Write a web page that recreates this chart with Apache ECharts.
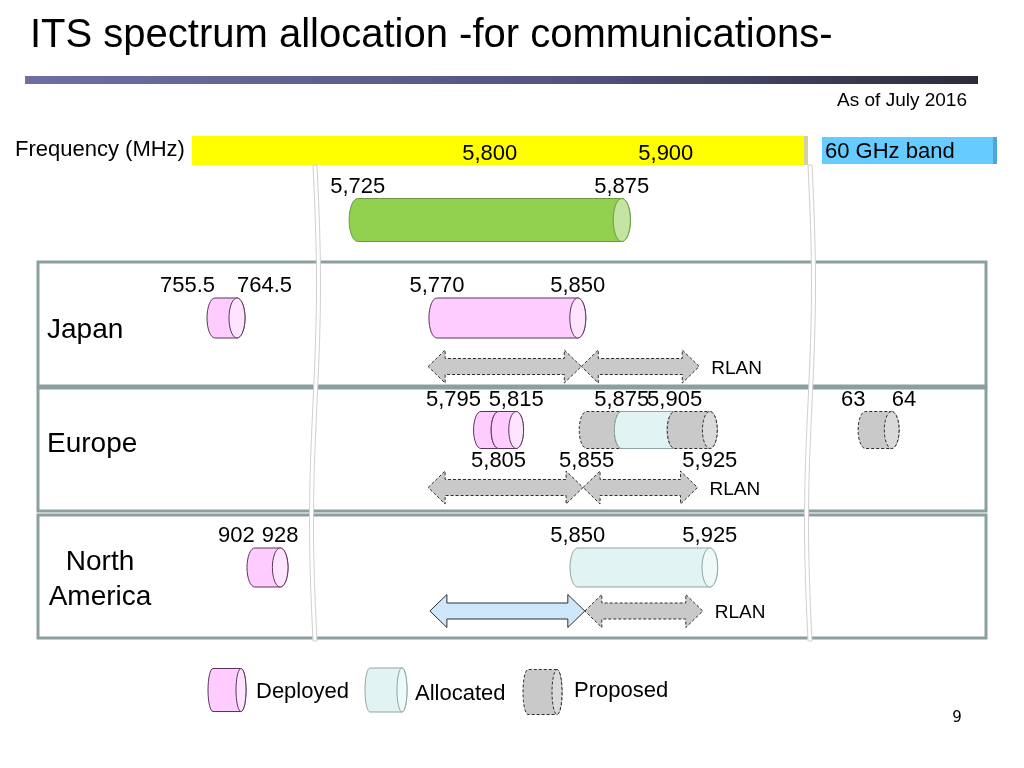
<!DOCTYPE html>
<html>
<head>
<meta charset="utf-8">
<title>ITS spectrum allocation</title>
<script src="https://cdn.jsdelivr.net/npm/echarts@6.0.0/dist/echarts.min.js"></script>
<style>
html,body{margin:0;padding:0;background:#ffffff;}
#chart{width:1024px;height:768px;}
</style>
</head>
<body>
<div id="chart"></div>
<script>
// ===== DATA (frequencies in MHz; 60 GHz band in GHz) =====
const headerTicks       = [5800, 5900];
const ismBand           = [[5725, 5875, 'ISM']];
const ismTicks          = [5725, 5875];

const japanMain         = [[5770, 5850, 'Deployed']];
const japanMainTicks    = [5770, 5850];
const japanLow          = [[755.5, 764.5, 'Deployed']];
const japanLowTicks     = [755.5, 764.5];
const japanRlan         = [[5765, 5852, 'Proposed'], [5852, 5919, 'Proposed']];

const europeMain        = [[5795, 5805, 'Deployed'], [5805, 5815, 'Deployed'], [5855, 5875, 'Proposed'], [5875, 5905, 'Allocated'], [5905, 5925, 'Proposed']];
const europeTopTicks    = [5795, 5815, 5875, 5905];
const europeBottomTicks = [5805, 5855, 5925];
const europe60          = [[63, 64, 'Proposed']];
const europe60Ticks     = [63, 64];
const europeRlan        = [[5765, 5853, 'Proposed'], [5853, 5918, 'Proposed']];

const naMain            = [[5850, 5925, 'Allocated']];
const naMainTicks       = [5850, 5925];
const naLow             = [[902, 928, 'Deployed']];
const naLowTicks        = [902, 928];
const naArrows          = [[5766, 5854, 'DSRC'], [5854, 5921, 'Proposed']];

const legendItems       = ['Deployed', 'Allocated', 'Proposed'];

// ===== LAYOUT / STYLE =====
const FONT = '"Liberation Sans", Arial, Helvetica, sans-serif';
const GRID_L = 38, GRID_W = 948;
const RANGE = {
  header: [5630.88, 5980.76],
  main:   [5543.41, 6081.86],
  lowJP:  [683.08, 1070.98],
  lowNA:  [680.1, 1650.4],
  ghz60:  [31.42, 67.6]
};
const STYLE = {
  Deployed:  {fill: '#ffccff', face: '#ffe4ff', stroke: '#5a355a', dash: null},
  Allocated: {fill: '#e2f3f4', face: '#eef9fa', stroke: '#8fa5a5', dash: null},
  Proposed:  {fill: '#c9c9c9', face: '#dadada', stroke: '#2e2e2e', dash: [3, 2]},
  ISM:       {fill: '#92d050', face: '#c4e4a2', stroke: '#6c9a40', dash: null},
  DSRC:      {fill: '#cfe7fa', face: '#cfe7fa', stroke: '#2e2e2e', dash: null}
};
const ANCHOR = {'755.5': 'right', '764.5': 'left', '5795': 'right', '902': 'right', '63': 'right', '64': 'left'};

function fmt(v) {
  const p = String(v).split('.');
  p[0] = p[0].replace(/\B(?=(\d{3})+(?!\d))/g, ',');
  return p.join('.');
}

// half / full ellipse sampled as points
function arcPts(cx, cy, rx, ry, a0, a1, n) {
  const out = [];
  for (let i = 0; i <= n; i++) {
    const a = a0 + (a1 - a0) * i / n;
    out.push([cx + rx * Math.cos(a), cy + ry * Math.sin(a)]);
  }
  return out;
}

function cylShapes(cl, cr, yc, h, rx, st) {
  const ry = h / 2;
  const right = arcPts(cr, yc, rx, ry, -Math.PI / 2, Math.PI / 2, 16);
  const left = arcPts(cl, yc, rx, ry, Math.PI / 2, Math.PI * 1.5, 16);
  const body = right.concat(left);
  const face = arcPts(cr, yc, rx, ry, 0, Math.PI * 2, 36);
  return [
    {type: 'polygon', shape: {points: body}, style: {fill: st.fill, stroke: st.stroke, lineWidth: 1, lineDash: st.dash}},
    {type: 'polygon', shape: {points: face}, style: {fill: st.face, stroke: st.stroke, lineWidth: 1, lineDash: st.dash}}
  ];
}

function arrowPts(x0, x1, yc) {
  const H = 16.5, S = 8, L = 17;
  return [[x0, yc], [x0 + L, yc - H], [x0 + L, yc - S], [x1 - L, yc - S], [x1 - L, yc - H], [x1, yc],
          [x1 - L, yc + H], [x1 - L, yc + S], [x0 + L, yc + S], [x0 + L, yc + H]];
}

function cylSeries(arr, xi, yi, h) {
  return {
    type: 'custom', xAxisIndex: xi, yAxisIndex: yi, clip: false, silent: true,
    data: arr.map(d => [d[0], d[1], 0]),
    encode: {x: [0, 1], y: 2},
    renderItem: function (params, api) {
      const d = arr[params.dataIndex];
      const a = api.coord([api.value(0), 0]);
      const b = api.coord([api.value(1), 0]);
      return {type: 'group', children: cylShapes(a[0], b[0], a[1], h, h * 0.2, STYLE[d[2]])};
    }
  };
}

function tickSeries(vals, xi, yi, h, side) {
  return {
    type: 'custom', xAxisIndex: xi, yAxisIndex: yi, clip: false, silent: true,
    data: vals.map(v => [v, 0]),
    encode: {x: 0, y: 1},
    renderItem: function (params, api) {
      const v = api.value(0);
      const p = api.coord([v, 0]);
      const y = side === 'top' ? p[1] - h / 2 - 12 : p[1] + h / 2 + 12;
      return {type: 'text', style: {text: fmt(v), x: p[0], y: y, align: ANCHOR[v] || 'center', verticalAlign: 'middle',
        fill: '#000', fontSize: 22, fontFamily: FONT}};
    }
  };
}

function arrowSeries(arr, xi, yi, tailText) {
  return {
    type: 'custom', xAxisIndex: xi, yAxisIndex: yi, clip: false, silent: true,
    data: arr.map(d => [d[0], d[1], 1]),
    encode: {x: [0, 1], y: 2},
    renderItem: function (params, api) {
      const d = arr[params.dataIndex];
      const a = api.coord([api.value(0), 1]);
      const b = api.coord([api.value(1), 1]);
      const st = STYLE[d[2]];
      const children = [{type: 'polygon', shape: {points: arrowPts(a[0], b[0], a[1])},
        style: {fill: st.fill, stroke: st.stroke, lineWidth: 1, lineDash: st.dash}}];
      if (tailText && params.dataIndex === arr.length - 1) {
        children.push({type: 'text', style: {text: tailText, x: b[0] + 12, y: a[1] + 2, align: 'left', verticalAlign: 'middle',
          fill: '#000', fontSize: 19, fontFamily: FONT}});
      }
      return {type: 'group', children: children};
    }
  };
}

function hiddenX(grid, r) {
  return {type: 'value', gridIndex: grid, min: r[0], max: r[1], show: false, splitLine: {show: false}};
}
function hiddenY(grid, cats) {
  return {type: 'category', gridIndex: grid, data: cats, inverse: true, show: false};
}

function breakLine(x, y0, y1) {
  const n = 40, lft = [], rgt = [];
  for (let i = 0; i <= n; i++) {
    const t = i / n;
    const y = y0 + (y1 - y0) * t;
    const dx = 3.5 * Math.sin(t * Math.PI * 2);
    lft.push([x + dx, y]);
    rgt.unshift([x + 4 + dx, y]);
  }
  return {type: 'polygon', z: 100, shape: {points: lft.concat(rgt)}, style: {fill: '#ffffff', stroke: '#d0d0d0', lineWidth: 1}};
}

function txt(text, x, y, size, align) {
  return {type: 'text', style: {text: text, x: x, y: y, fontSize: size, fontFamily: FONT,
    fill: '#000', align: align || 'left', verticalAlign: 'middle'}};
}

// legend icons
const legendBoxes = [[208, 246, 690, 43], [365, 407, 690, 44], [523, 562, 692, 45]];
const legendText = [[256, 692], [415, 694], [574, 691]];
const legendGraphics = [];
legendItems.forEach((name, i) => {
  const b = legendBoxes[i];
  legendGraphics.push({type: 'group', children: cylShapes(b[0] + 5, b[1] - 5, b[2], b[3], 5, STYLE[name])});
  legendGraphics.push(txt(name, legendText[i][0], legendText[i][1], 22));
});

const chart = echarts.init(document.getElementById('chart'), null, {renderer: 'canvas'});

const option = {
  animation: false,
  backgroundColor: '#ffffff',
  grid: [
    {left: 192, width: 616, top: 136, height: 29, show: true, backgroundColor: '#ffff00', borderWidth: 0},
    {left: GRID_L, width: GRID_W, top: 198, height: 44},
    {left: GRID_L, width: GRID_W, top: 293.75, height: 97},
    {left: GRID_L, width: GRID_W, top: 401.25, height: 115},
    {left: GRID_L, width: GRID_W, top: 545.75, height: 87}
  ],
  xAxis: [
    {type: 'value', gridIndex: 0, min: RANGE.header[0], max: RANGE.header[1], position: 'bottom',
      axisLine: {show: false}, axisTick: {show: false}, splitLine: {show: false},
      axisLabel: {inside: true, customValues: headerTicks, margin: 0, formatter: v => fmt(v),
        color: '#000', fontSize: 22, fontFamily: FONT}},
    hiddenX(1, RANGE.main),
    hiddenX(2, RANGE.main),
    hiddenX(2, RANGE.lowJP),
    hiddenX(3, RANGE.main),
    hiddenX(3, RANGE.ghz60),
    hiddenX(4, RANGE.main),
    hiddenX(4, RANGE.lowNA)
  ],
  yAxis: [
    hiddenY(0, ['band']),
    hiddenY(1, ['ISM']),
    hiddenY(2, ['cyl', 'arrow']),
    hiddenY(3, ['cyl', 'arrow']),
    hiddenY(4, ['cyl', 'arrow'])
  ],
  series: [
    {type: 'custom', xAxisIndex: 0, yAxisIndex: 0, data: [], renderItem: () => null},
    // ISM
    cylSeries(ismBand, 1, 1, 43),
    tickSeries(ismTicks, 1, 1, 43, 'top'),
    // Japan
    cylSeries(japanMain, 2, 2, 40),
    tickSeries(japanMainTicks, 2, 2, 40, 'top'),
    cylSeries(japanLow, 3, 2, 40),
    tickSeries(japanLowTicks, 3, 2, 40, 'top'),
    arrowSeries(japanRlan, 2, 2, 'RLAN'),
    // Europe
    cylSeries(europeMain, 4, 3, 37),
    tickSeries(europeTopTicks, 4, 3, 37, 'top'),
    tickSeries(europeBottomTicks, 4, 3, 37, 'bottom'),
    cylSeries(europe60, 5, 3, 37),
    tickSeries(europe60Ticks, 5, 3, 37, 'top'),
    arrowSeries(europeRlan, 4, 3, 'RLAN'),
    // North America
    cylSeries(naMain, 6, 4, 39),
    tickSeries(naMainTicks, 6, 4, 39, 'top'),
    cylSeries(naLow, 7, 4, 39),
    tickSeries(naLowTicks, 7, 4, 39, 'top'),
    arrowSeries(naArrows, 6, 4, 'RLAN')
  ],
  graphic: [
    txt('ITS spectrum allocation -for communications-', 30, 36, 40),
    {type: 'rect', shape: {x: 25, y: 76, width: 953, height: 8},
      style: {fill: new echarts.graphic.LinearGradient(0, 0, 1, 0, [
        {offset: 0, color: '#6e6ea4'}, {offset: 0.55, color: '#555580'}, {offset: 1, color: '#2c2c3e'}])}},
    txt('As of July 2016', 967, 101, 19, 'right'),
    txt('Frequency (MHz)', 15, 150, 22),
    {type: 'rect', shape: {x: 804, y: 136, width: 4, height: 29}, style: {fill: '#d2d2a0'}},
    {type: 'rect', shape: {x: 822, y: 137, width: 172, height: 27}, style: {fill: '#66ccff'}},
    {type: 'rect', shape: {x: 993, y: 137, width: 4, height: 27}, style: {fill: '#4ea6d6'}},
    txt('60 GHz band', 825, 152, 22),
    {type: 'rect', shape: {x: 38, y: 262, width: 948, height: 124}, style: {fill: 'rgba(0,0,0,0)', stroke: '#8c9fa0', lineWidth: 3}},
    {type: 'rect', shape: {x: 38, y: 388, width: 948, height: 123}, style: {fill: 'rgba(0,0,0,0)', stroke: '#8c9fa0', lineWidth: 3}},
    {type: 'rect', shape: {x: 38, y: 515, width: 948, height: 123}, style: {fill: 'rgba(0,0,0,0)', stroke: '#8c9fa0', lineWidth: 3}},
    txt('Japan', 47, 330, 28),
    txt('Europe', 47, 444, 28),
    txt('North', 100, 562, 28, 'center'),
    txt('America', 100, 597, 28, 'center'),
    breakLine(313, 165, 641),
    breakLine(808, 165, 641),
    ...legendGraphics,
    {type: 'text', style: {text: '9', x: 957, y: 718, fontSize: 15, fontFamily: '"DejaVu Sans", sans-serif', fill: '#000',
      align: 'center', verticalAlign: 'middle'}}
  ]
};
chart.setOption(option);
</script>
</body>
</html>
